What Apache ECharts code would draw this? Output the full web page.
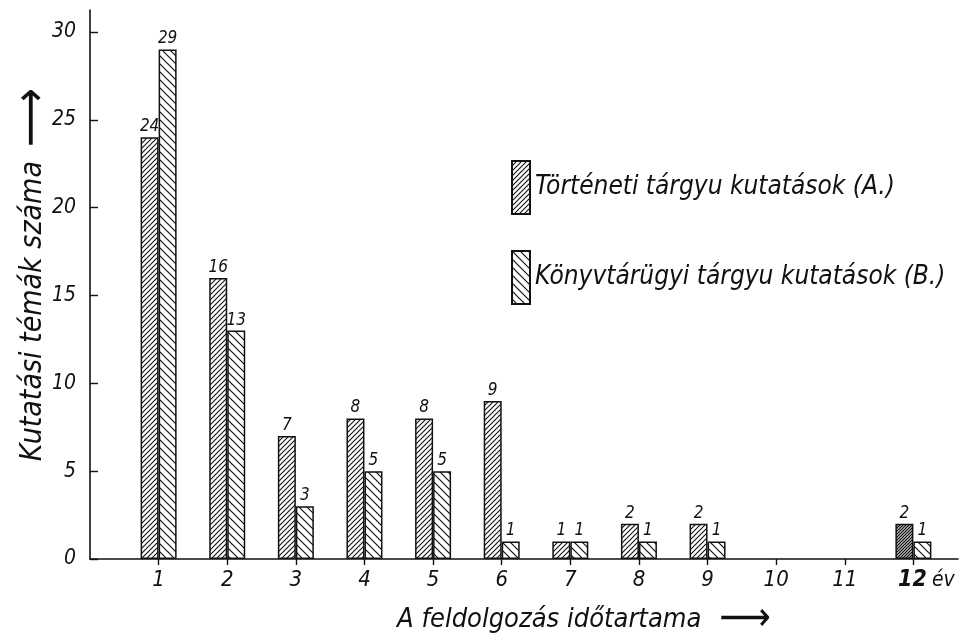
<!DOCTYPE html>
<html>
<head>
<meta charset="utf-8">
<script src="https://cdn.jsdelivr.net/npm/echarts/dist/echarts.min.js"></script>
<style>
html,body{margin:0;padding:0;background:#fff;}
#chart{width:960px;height:635px;}
</style>
</head>
<body>
<div id="chart"></div>
<script>
// ---- data ----
const categories = [1, 2, 3, 4, 5, 6, 7, 8, 9, 10, 11, 12];
const seriesAName = 'Történeti tárgyu kutatások (A.)';
const seriesBName = 'Könyvtárügyi tárgyu kutatások (B.)';
const seriesA = [24, 16, 7, 8, 8, 9, 1, 2, 2, 0, 0, 2];
const seriesB = [29, 13, 3, 5, 5, 1, 1, 1, 1, 0, 0, 1];
const yTicks = [0, 5, 10, 15, 20, 25, 30];
const xTitle = 'A feldolgozás időtartama';
const yTitle = 'Kutatási témák száma';
const unitLabel = 'év';

// ---- hatch patterns ----
function hatch(size, forward, lw) {
  const c = document.createElement('canvas');
  c.width = size; c.height = size;
  const g = c.getContext('2d');
  g.fillStyle = '#fff'; g.fillRect(0, 0, size, size);
  g.strokeStyle = '#111'; g.lineWidth = lw;
  g.beginPath();
  if (forward) {
    g.moveTo(-size, size * 2); g.lineTo(size * 2, -size);
    g.moveTo(-size, size); g.lineTo(size, -size);
    g.moveTo(0, size * 2); g.lineTo(size * 2, 0);
  } else {
    g.moveTo(-size, -size); g.lineTo(size * 2, size * 2);
    g.moveTo(-size, 0); g.lineTo(size, size * 2);
    g.moveTo(0, -size); g.lineTo(size * 2, size);
  }
  g.stroke();
  return c;
}
const patA = { image: hatch(5, true, 1.1), repeat: 'repeat' };
const patAdark = { image: hatch(3, true, 1.3), repeat: 'repeat' };
const patB = { image: hatch(8, false, 1.2), repeat: 'repeat' };

const FONT = "'DejaVu Sans Condensed', 'DejaVu Sans', sans-serif";

// zero counts are drawn as no bar at all
const dataA = categories.map((c, i) => {
  const item = { value: [c, seriesA[i] === 0 ? '-' : seriesA[i]] };
  if (c === 12) item.itemStyle = { color: patAdark };
  return item;
});
const dataB = categories.map((c, i) => ({ value: [c, seriesB[i] === 0 ? '-' : seriesB[i]] }));

const labelCfg = {
  show: true, position: 'top', distance: 2,
  fontFamily: FONT, fontStyle: 'italic', fontSize: 17, color: '#111',
  formatter: p => String(p.value[1])
};

const chart = echarts.init(document.getElementById('chart'));
chart.setOption({
  backgroundColor: '#fff',
  animation: false,
  grid: { left: 90, right: 2, top: 10, bottom: 76, containLabel: false, outerBoundsMode: 'none' },
  legend: {
    orient: 'vertical', left: 506, top: 155,
    itemWidth: 18, itemHeight: 53, itemGap: 35,
    icon: 'rect',
    textStyle: { fontFamily: FONT, fontStyle: 'italic', fontSize: 26, color: '#111' },
    data: [seriesAName, seriesBName]
  },
  xAxis: {
    type: 'value', min: 0, max: 12.65,
    splitLine: { show: false },
    axisLine: { onZero: false, lineStyle: { color: '#111', width: 1.6 } },
    axisTick: { show: true, length: 6, customValues: categories, lineStyle: { color: '#111', width: 1.4 } },
    axisLabel: {
      customValues: categories, margin: 10,
      fontFamily: FONT, fontStyle: 'italic', fontSize: 22, color: '#111',
      formatter: v => v === 12 ? '{s|}{b|12}{e|' + unitLabel + '}' : String(v),
      rich: {
        s: { width: 26 },
        b: { fontFamily: FONT, fontStyle: 'italic', fontWeight: 'bold', fontSize: 23, color: '#111' },
        e: { fontFamily: FONT, fontStyle: 'italic', fontSize: 21, color: '#111', padding: [0, 0, 0, 5] }
      }
    },
    name: '{t|' + xTitle + '}{a|⟶}',
    nameLocation: 'middle', nameGap: 41, nameMoveOverlap: false,
    nameTextStyle: {
      padding: [0, 0, 0, 120],
      rich: {
        t: { fontFamily: FONT, fontStyle: 'italic', fontSize: 27, color: '#111' },
        a: { fontFamily: FONT, fontSize: 40, color: '#111', padding: [0, 0, 0, 18] }
      }
    }
  },
  yAxis: {
    type: 'value', min: 0, max: 31.25,
    splitLine: { show: false },
    axisLine: { onZero: false, lineStyle: { color: '#111', width: 1.6 } },
    axisTick: { show: true, inside: true, length: 8, customValues: yTicks, lineStyle: { color: '#111', width: 1.4 } },
    axisLabel: {
      customValues: yTicks, margin: 14,
      fontFamily: FONT, fontStyle: 'italic', fontSize: 21, color: '#111'
    },
    name: '{t|' + yTitle + '}{a|⟶}',
    nameLocation: 'middle', nameGap: 34, nameRotate: 90, nameMoveOverlap: false,
    nameTextStyle: {
      padding: [0, 0, 0, 20],
      rich: {
        t: { fontFamily: FONT, fontStyle: 'italic', fontSize: 30, color: '#111' },
        a: { fontFamily: FONT, fontSize: 46, color: '#111', padding: [0, 0, 0, 14] }
      }
    }
  },
  series: [
    {
      name: seriesAName, type: 'bar', barWidth: 18, barGap: '0%',
      itemStyle: { color: patA, borderColor: '#111', borderWidth: 1.5 },
      label: labelCfg,
      data: dataA
    },
    {
      name: seriesBName, type: 'bar', barWidth: 18, barGap: '0%',
      itemStyle: { color: patB, borderColor: '#111', borderWidth: 1.5 },
      label: labelCfg,
      data: dataB
    }
  ]
});
</script>
</body>
</html>
